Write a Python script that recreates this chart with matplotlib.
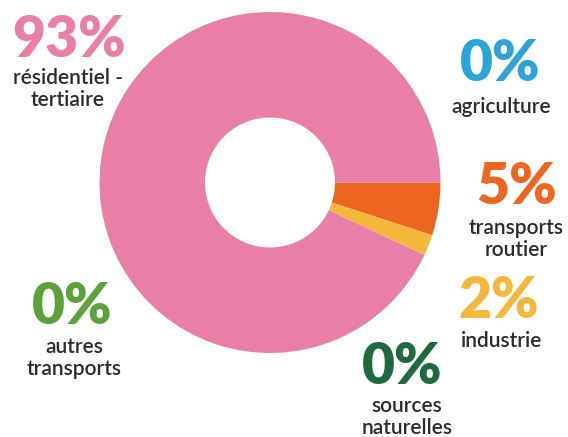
import matplotlib.pyplot as plt

# ============================================================
# DONNÉES
# ============================================================
categories = ['agriculture', 'transports\nroutier', 'industrie',
              'sources\nnaturelles', 'autres\ntransports', 'résidentiel -\ntertiaire']
values = [0, 5, 2, 0, 0, 93]
pct_labels = ['0%', '5%', '2%', '0%', '0%', '93%']
colors = ['#2BA3D8', '#EC6622', '#F4B73C', '#1E6A3F', '#5BA23A', '#E97FA6']

# label centres (pixels, from top-left)
pct_pos = [(500, 64), (517, 187), (499, 301), (402, 367), (72, 307), (69, 40)]
name_pos = [(501, 107), (516, 239), (502, 341), (407, 417), (74, 358), (68, 89)]

W, H = 568, 437
TXT = '#2b2b2b'

fig = plt.figure(figsize=(W / 100, H / 100), dpi=100)
ax = fig.add_axes([0, 0, 1, 1])

ax.pie(values, colors=colors, startangle=0, counterclock=False,
       center=(270, H - 182.5), radius=170.5,
       wedgeprops=dict(width=105.5, linewidth=0))

ax.set_xlim(0, W)
ax.set_ylim(0, H)
ax.set_aspect('equal')
ax.axis('off')

for txt, (x, y), c in zip(pct_labels, pct_pos, colors):
    ax.text(x, H - y, txt, color=c, fontsize=41, fontweight='heavy',
            family='Lato', ha='center', va='center')

for txt, (x, y) in zip(categories, name_pos):
    ax.text(x, H - y, txt, color=TXT, fontsize=15, fontweight='semibold',
            family='Lato', ha='center', va='center', linespacing=1.15)

plt.savefig('out.png', dpi=100)
